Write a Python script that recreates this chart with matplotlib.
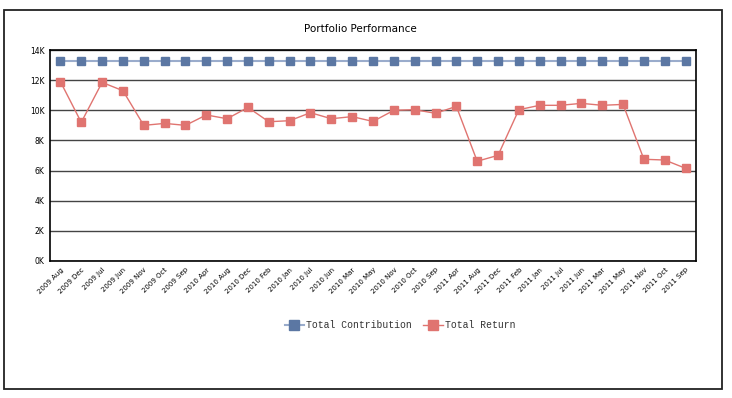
import matplotlib
matplotlib.use("Agg")
import matplotlib.pyplot as plt
from matplotlib.patches import Rectangle
from matplotlib.ticker import FuncFormatter

categories = ["2009 Aug", "2009 Dec", "2009 Jul", "2009 Jun", "2009 Nov", "2009 Oct", "2009 Sep",
              "2010 Apr", "2010 Aug", "2010 Dec", "2010 Feb", "2010 Jan", "2010 Jul", "2010 Jun",
              "2010 Mar", "2010 May", "2010 Nov", "2010 Oct", "2010 Sep", "2011 Apr", "2011 Aug",
              "2011 Dec", "2011 Feb", "2011 Jan", "2011 Jul", "2011 Jun", "2011 Mar", "2011 May",
              "2011 Nov", "2011 Oct", "2011 Sep"]
total_contribution = [13250] * 31
total_return = [11900, 9200, 11850, 11300, 9000, 9130, 9000, 9690, 9440, 10190, 9240, 9310,
                9840, 9440, 9580, 9260, 10000, 10040, 9800, 10260, 6620, 7010, 10040, 10330,
                10330, 10460, 10330, 10390, 6750, 6700, 6150]
y_ticks = [0, 2000, 4000, 6000, 8000, 10000, 12000, 14000]

blue = "#5b77a3"
red = "#e07470"

fig = plt.figure(figsize=(7.32, 3.98), dpi=100)
fig.patches.append(Rectangle((4/732, 1-389/398), (722-4)/732, (389-10)/398,
                             transform=fig.transFigure, fill=False, edgecolor="#222222",
                             linewidth=1.3, zorder=0))
ax = fig.add_axes([50/732, 1-261/398, (696-50)/732, (261-50)/398])

x = list(range(len(categories)))
ax.plot(x, total_contribution, color="#9aaccc", linewidth=1.5, marker="s", markersize=5.6,
        markerfacecolor=blue, markeredgecolor=blue, label="Total Contribution", zorder=3)
ax.plot(x, total_return, color=red, linewidth=1.0, marker="s", markersize=5.6,
        markerfacecolor=red, markeredgecolor=red, label="Total Return", zorder=3)

ax.set_xlim(-0.5, len(categories) - 0.5)
ax.set_ylim(0, 14000)
ax.set_yticks(y_ticks)
ax.yaxis.set_major_formatter(FuncFormatter(lambda v, p: f"{int(v/1000)}K"))
ax.set_xticks(x)
ax.set_xticklabels(categories, rotation=45, ha="right", rotation_mode="anchor",
                   fontsize=5)
ax.tick_params(axis="both", length=0, pad=4)
ax.tick_params(axis="y", labelsize=5.5)
ax.grid(axis="y", color="#444444", linewidth=1.0)
ax.set_axisbelow(True)
for s in ax.spines.values():
    s.set_color("black")
    s.set_linewidth(1.2)

fig.text(360/732, 1-29/398, "Portfolio Performance", ha="center", va="center", fontsize=7.5)

leg = fig.legend(loc="center", bbox_to_anchor=(400/732, 1-325/398), ncol=2, frameon=False,
                 prop={"family": "Liberation Mono", "size": 7}, handlelength=2.0,
                 columnspacing=1.2, handletextpad=0.2, markerscale=1.3)
for t in leg.get_texts():
    t.set_color("#333333")

fig.savefig("out.png", dpi=100)
